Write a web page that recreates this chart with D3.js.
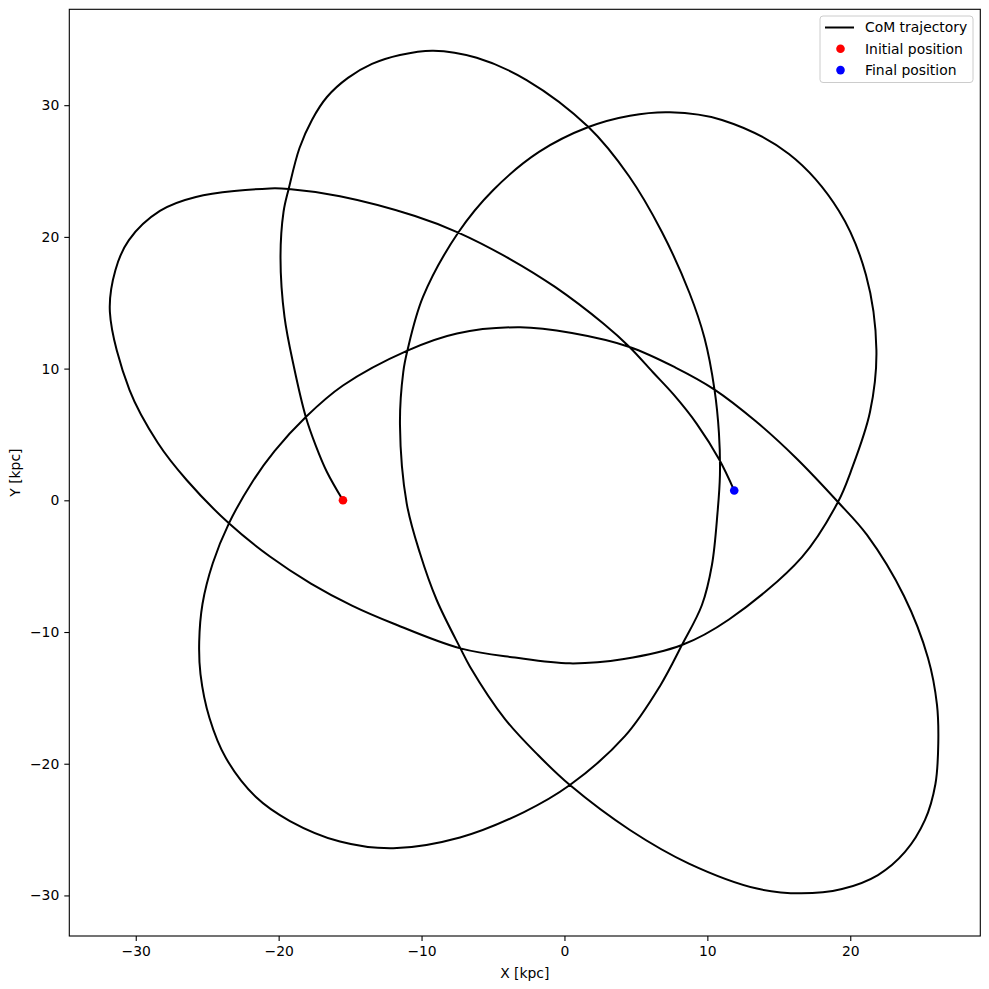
<!DOCTYPE html>
<html>
<head>
<meta charset="utf-8">
<script src="https://cdn.jsdelivr.net/npm/d3@7"></script>
<style>
  body { margin: 0; background: #fff; }
  svg text { font-family: "DejaVu Sans", sans-serif; }
</style>
</head>
<body>
<div id="chart"></div>
<script>
// trajectory samples (kpc), in time order
const trajX = [
  -15.50, -16.62, -17.39, -18.10, -18.93, -19.59, -19.87, -19.66, -19.30, -18.54,
  -17.67, -16.62, -15.15, -13.47, -11.51, -9.18, -6.14, -2.65, 1.68, 4.51,
  6.82, 8.75, 9.80, 10.50, 10.81, 10.88, 10.71, 10.32, 9.62, 8.22,
  6.68, 4.23, 0.38, -2.83, -7.31, -11.98, -15.71, -19.21, -21.59, -23.69,
  -24.84, -25.47, -25.56, -25.33, -24.61, -23.48, -21.80, -20.29, -18.10, -15.50,
  -10.99, -7.52, -3.11, 0.52, 4.55, 7.77, 10.50, 13.37, 16.17, 19.14,
  21.17, 23.76, 25.44, 26.07, 26.16, 25.96, 25.23, 23.83, 21.94, 19.42,
  16.55, 13.47, 8.71, 4.58, 0.38, -1.85, -4.16, -6.61, -7.28, -8.94,
  -10.11, -11.04, -11.51, -11.28, -10.99, -9.90, -7.43, -4.98, -1.78, 1.68,
  4.58, 7.38, 11.02, 15.71, 19.21, 21.10, 21.83, 21.38, 20.05, 19.14,
  16.62, 11.51, 8.22, 4.16, 0.38, -3.46, -7.28, -11.98, -14.87, -17.74,
  -20.61, -23.48, -26.44, -28.45, -30.44, -31.81, -31.42, -30.48, -28.31, -25.79,
  -20.61, -19.30, -15.71, -10.46, -7.43, -3.81, -0.66, 2.72, 4.55, 6.19,
  7.66, 9.27, 10.85, 11.88
]
const trajY = [
  0.00, 2.15, 4.12, 6.33, 10.12, 13.92, 18.40, 21.89, 23.64, 26.75,
  28.88, 30.62, 32.07, 33.13, 33.81, 34.14, 33.60, 31.91, 28.34, 24.62,
  20.37, 15.74, 12.32, 8.41, 5.11, 1.92, -0.96, -4.91, -7.95, -10.99,
  -14.11, -17.91, -21.62, -23.67, -25.60, -26.42, -25.91, -24.35, -22.53, -19.57,
  -16.53, -13.19, -10.76, -7.87, -4.78, -1.75, 1.47, 3.74, 6.33, 8.72,
  11.37, 12.67, 13.14, 12.70, 11.64, 10.08, 8.41, 6.02, 3.25, -0.13,
  -2.63, -7.27, -11.97, -15.54, -18.43, -21.54, -24.27, -26.70, -28.45, -29.51,
  -29.84, -29.48, -27.58, -25.03, -21.62, -19.34, -16.61, -12.63, -11.24, -7.57,
  -4.02, -0.23, 5.72, 9.74, 11.37, 15.44, 20.33, 23.56, 26.45, 28.34,
  29.20, 29.46, 28.88, 26.29, 21.97, 17.11, 11.41, 6.70, 2.22, -0.13,
  -4.31, -9.05, -10.99, -12.05, -12.38, -11.94, -11.24, -9.35, -7.99, -6.32,
  -4.27, -1.75, 1.54, 4.35, 8.38, 14.30, 17.49, 19.76, 21.97, 23.03,
  23.68, 23.64, 23.09, 21.59, 20.33, 18.32, 16.20, 13.42, 11.64, 9.72,
  8.00, 5.79, 3.06, 0.74
]
const initialPos = [-15.50, 0.00]
const finalPos = [11.88, 0.74]

const xTicks = [-30, -20, -10, 0, 10, 20]
const yTicks = [-30, -20, -10, 0, 10, 20, 30]
const xDomain = [-34.65, 29.1]
const yDomain = [-33.08, 37.28]

const legendItems = ["CoM trajectory", "Initial position", "Final position"]

const dimensions = {
  width: 989,
  height: 989,
  margin: { top: 9.3, right: 8.7, bottom: 53, left: 69.3 },
}
dimensions.boundedWidth = dimensions.width - dimensions.margin.left - dimensions.margin.right
dimensions.boundedHeight = dimensions.height - dimensions.margin.top - dimensions.margin.bottom

const svg = d3.select("#chart")
  .append("svg")
    .attr("width", dimensions.width)
    .attr("height", dimensions.height)

const bounds = svg.append("g")
  .attr("transform", `translate(${dimensions.margin.left},${dimensions.margin.top})`)

const xScale = d3.scaleLinear()
  .domain(xDomain)
  .range([0, dimensions.boundedWidth])
const yScale = d3.scaleLinear()
  .domain(yDomain)
  .range([dimensions.boundedHeight, 0])

const points = trajX.map((x, i) => [x, trajY[i]])

// trajectory
const lineGenerator = d3.line()
  .x(d => xScale(d[0]))
  .y(d => yScale(d[1]))
  .curve(d3.curveCatmullRom.alpha(0.5))

bounds.append("path")
  .attr("d", lineGenerator(points))
  .attr("fill", "none")
  .attr("stroke", "#000")
  .attr("stroke-width", 2)
  .attr("stroke-linejoin", "round")

bounds.append("circle")
  .attr("cx", xScale(initialPos[0]))
  .attr("cy", yScale(initialPos[1]))
  .attr("r", 4.3)
  .attr("fill", "red")
bounds.append("circle")
  .attr("cx", xScale(finalPos[0]))
  .attr("cy", yScale(finalPos[1]))
  .attr("r", 4.3)
  .attr("fill", "blue")

// axes
const xAxis = bounds.append("g")
  .attr("transform", `translate(0,${dimensions.boundedHeight})`)
  .call(d3.axisBottom(xScale).tickValues(xTicks).tickSize(5).tickPadding(5))
const yAxis = bounds.append("g")
  .call(d3.axisLeft(yScale).tickValues(yTicks).tickSize(5).tickPadding(5))

bounds.selectAll(".domain").remove()
bounds.selectAll(".tick line").attr("stroke", "#000").attr("stroke-width", 1.1)
bounds.selectAll(".tick text")
  .style("font-size", "13.9px")
  .style("font-family", "DejaVu Sans, sans-serif")
  .attr("fill", "#000")

bounds.append("rect")
  .attr("width", dimensions.boundedWidth)
  .attr("height", dimensions.boundedHeight)
  .attr("fill", "none")
  .attr("stroke", "#000")
  .attr("stroke-width", 1.1)

bounds.append("text")
  .attr("x", dimensions.boundedWidth / 2)
  .attr("y", dimensions.boundedHeight + 42)
  .attr("text-anchor", "middle")
  .style("font-size", "13.9px")
  .text("X [kpc]")

bounds.append("text")
  .attr("transform", `translate(${-49},${dimensions.boundedHeight / 2}) rotate(-90)`)
  .attr("text-anchor", "middle")
  .style("font-size", "13.9px")
  .text("Y [kpc]")

// legend
const legend = bounds.append("g")
  .attr("transform", `translate(${820 - dimensions.margin.left},${16 - dimensions.margin.top})`)

legend.append("rect")
  .attr("width", 153)
  .attr("height", 66.5)
  .attr("rx", 3)
  .attr("fill", "#fff")
  .attr("fill-opacity", 0.8)
  .attr("stroke", "#ccc")

legend.selectAll("text.item")
  .data(legendItems)
  .join("text")
    .attr("class", "item")
    .attr("x", 45)
    .attr("y", (d, i) => 11.5 + i * 21.3)
    .attr("dy", "0.35em")
    .style("font-size", "13.9px")
    .text(d => d)

legend.append("line")
  .attr("x1", 5).attr("x2", 34)
  .attr("y1", 11.5).attr("y2", 11.5)
  .attr("stroke", "#000")
  .attr("stroke-width", 2)
legend.append("circle")
  .attr("cx", 20.5).attr("cy", 11.5 + 21.3)
  .attr("r", 4.3).attr("fill", "red")
legend.append("circle")
  .attr("cx", 20.5).attr("cy", 11.5 + 42.6)
  .attr("r", 4.3).attr("fill", "blue")
</script>
</body>
</html>
